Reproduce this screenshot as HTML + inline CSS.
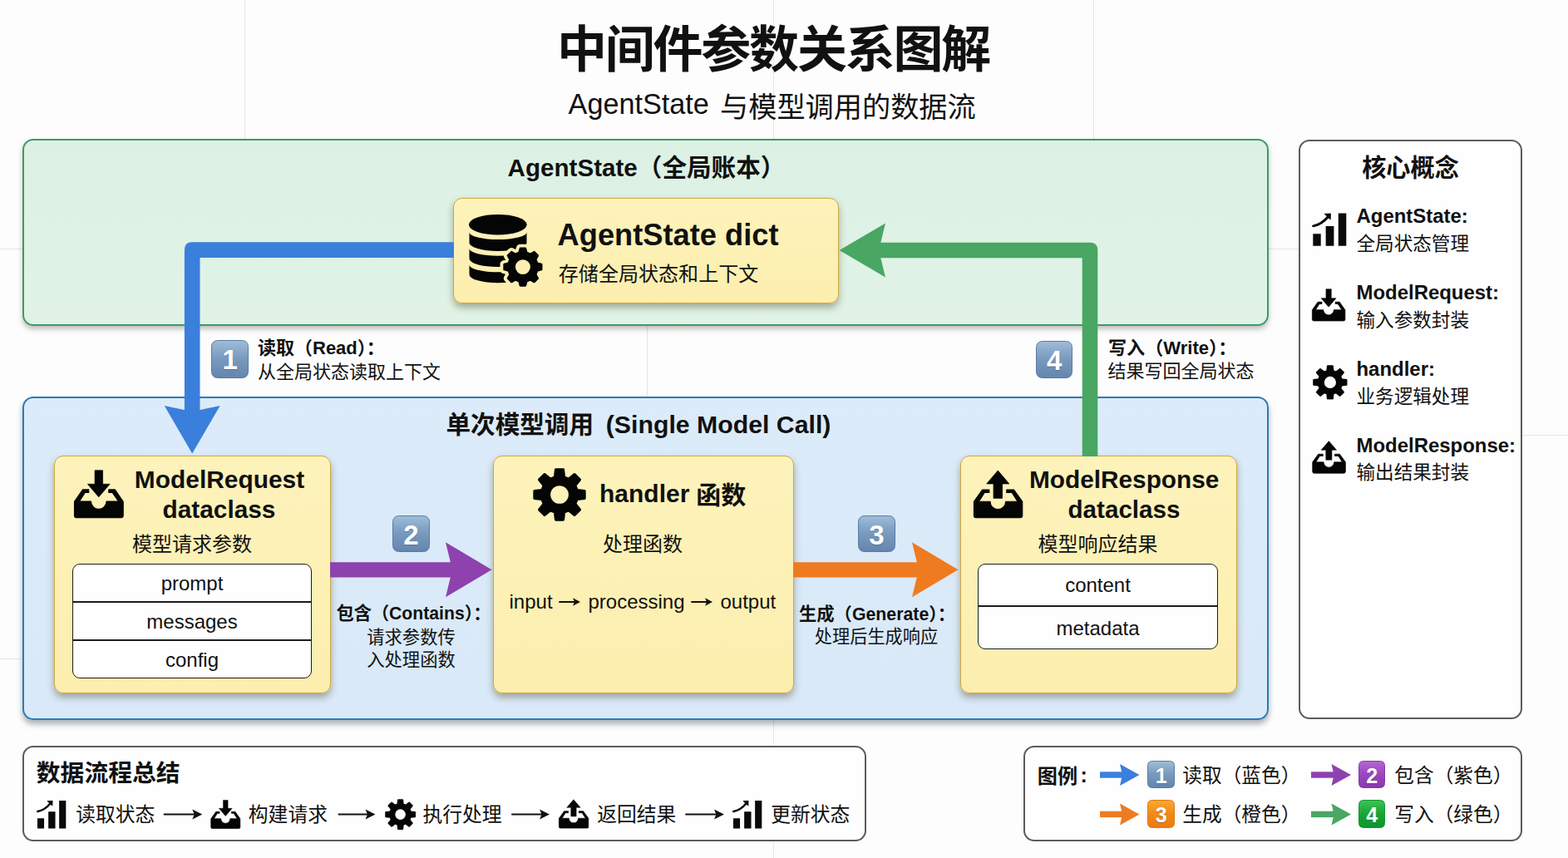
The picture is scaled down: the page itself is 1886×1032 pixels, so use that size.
<!DOCTYPE html>
<html lang="zh"><head><meta charset="utf-8"><title>中间件参数关系图解</title>
<style>
html,body{margin:0;padding:0;background:#fdfdfd}
#r{position:relative;width:1886px;height:1032px;overflow:hidden;background:#fdfdfd;font-family:"Liberation Sans","Noto Sans CJK SC",sans-serif;color:#111}
#r>*{position:absolute;box-sizing:border-box}
.gl{background:#e4e4f0}
.pg{border:2px solid #3d9a66;border-radius:13px;background:linear-gradient(#dcf1e4,#e0f3e6);box-shadow:0 4px 6px rgba(60,70,60,.32)}
.pb{border:2px solid #2a7db4;border-radius:13px;background:linear-gradient(#dcebf9,#d9e9f8);box-shadow:0 5px 7px rgba(40,50,70,.38)}
.pw{border:2px solid #5e5a5c;border-radius:13px;background:#fefefe}
.yb{border:1.8px solid #cda742;border-radius:11px;background:linear-gradient(#fdf3bb,#fceeae);box-shadow:0 5px 8px rgba(80,70,30,.42)}
.ft{border:1.8px solid #1c1c1c;border-radius:9px;background:#fefefe}
.fl{height:1.8px;background:#1c1c1c}
.ov{left:0;top:0;pointer-events:none}
.ic{overflow:visible}
.t{white-space:nowrap;line-height:1}
.z{font-size:0}
.bd{border-radius:7.5px;color:#fff;font-weight:bold;text-align:center;text-shadow:0 1px 1px rgba(40,60,90,.35)}
.bd.sm{border-radius:5.5px}
.b0{background:linear-gradient(#9fbcd8,#7b9cc0 45%,#6485ad);border:1.5px solid #597ba3}
.b2{background:linear-gradient(#b266d2,#9a46bd 50%,#8a38ae);border:1.5px solid #8a3aac}
.b3{background:linear-gradient(#f7a832,#f08a18 50%,#ec7a10);border:1.5px solid #e07a14}
.b4{background:linear-gradient(#3cc257,#17a535 50%,#0d962a);border:1.5px solid #14962e}
</style></head>
<body>
<svg width="0" height="0" style="position:absolute"><defs>
<symbol id="i-gear" viewBox="0 0 100 100"><path d="M41.43 17.09 L42.98 3.02 L57.02 3.02 L58.57 17.09 L67.21 20.67 L78.25 11.82 L88.18 21.75 L79.33 32.79 L82.91 41.43 L96.98 42.98 L96.98 57.02 L82.91 58.57 L79.33 67.21 L88.18 78.25 L78.25 88.18 L67.21 79.33 L58.57 82.91 L57.02 96.98 L42.98 96.98 L41.43 82.91 L32.79 79.33 L21.75 88.18 L11.82 78.25 L20.67 67.21 L17.09 58.57 L3.02 57.02 L3.02 42.98 L17.09 41.43 L20.67 32.79 L11.82 21.75 L21.75 11.82 L32.79 20.67ZM30.53 50.00a19.47 19.47 0 1 0 38.95 0a19.47 19.47 0 1 0 -38.95 0Z" fill="#050505" stroke="#050505" stroke-width="5" stroke-linejoin="round" fill-rule="evenodd"/></symbol>
<symbol id="i-in" viewBox="0 0 1032 1032"><path fill="#050505" stroke="#050505" stroke-width="14" stroke-linejoin="round" d="M122 840 V622 L252 437 H345 V483 H288 L200 620 H380 A120 120 0 0 0 620 620 H805 L712 483 H655 V437 H752 L880 622 V840 Q880 875 845 875 H157 Q122 875 122 840Z"/><path fill="#050505" stroke="#050505" stroke-width="10" stroke-linejoin="round" d="M440 140 H562 V352 H672 L500 552 L328 352 H440Z"/></symbol>
<symbol id="i-out" viewBox="0 0 1032 1032"><path fill="#050505" stroke="#050505" stroke-width="14" stroke-linejoin="round" d="M147 840 V622 L278 439 H385 V483 H313 L225 622 H400 A120 120 0 0 0 640 622 H825 L737 483 H655 V439 H768 L900 622 V840 Q900 875 865 875 H182 Q147 875 147 840Z"/><path fill="#050505" stroke="#050505" stroke-width="10" stroke-linejoin="round" d="M520 142 L695 347 H588 V572 H452 V347 H345Z"/></symbol>
<symbol id="i-bar" viewBox="0 0 1032 1032"><path fill="#0a0a0a" d="M160 624 H322 V872 H160Z M424 464 H592 V872 H424Z M684 198 H848 V872 H684Z"/><path d="M165 462 Q340 430 478 262" fill="none" stroke="#0a0a0a" stroke-width="50" stroke-linecap="round"/><path fill="#0a0a0a" stroke="#0a0a0a" stroke-width="14" stroke-linejoin="round" d="M398 210 L524 206 L520 326 Z"/></symbol>
</defs></svg>
<div id="r">
<div class="gl" style="left:293.5px;top:0px;width:1px;height:170px"></div>
<div class="gl" style="left:1314.5px;top:0px;width:1px;height:170px"></div>
<div class="gl" style="left:930px;top:0px;width:1px;height:170px"></div>
<div class="gl" style="left:930px;top:860px;width:1px;height:172px"></div>
<div class="gl" style="left:777.5px;top:390px;width:1px;height:90px"></div>
<div class="gl" style="left:0px;top:298.5px;width:1570px;height:1px"></div>
<div class="gl" style="left:1825px;top:522.5px;width:61px;height:1px"></div>
<div class="gl" style="left:0px;top:792px;width:30px;height:1px"></div>
<div class="pg" style="left:27px;top:167px;width:1499px;height:225px;"></div>
<div class="pb" style="left:27px;top:477px;width:1499px;height:389px;"></div>
<div class="pw" style="left:1562px;top:168px;width:269px;height:697px;"></div>
<div class="pw" style="left:27px;top:897px;width:1015px;height:115px;"></div>
<div class="pw" style="left:1231px;top:896.5px;width:600px;height:115.5px;"></div>
<div class="yb" style="left:545px;top:238px;width:463.5px;height:127px;"></div>
<div class="yb" style="left:64.5px;top:547.5px;width:333.0px;height:286.0px;"></div>
<div class="yb" style="left:593px;top:547.5px;width:361.5px;height:286.0px;"></div>
<div class="yb" style="left:1155px;top:547.5px;width:332.5px;height:286.0px;"></div>
<div class="ft" style="left:87px;top:677.5px;width:287.5px;height:138.5px"></div>
<div class="fl" style="left:87px;top:722.75px;width:287.5px"></div>
<div class="fl" style="left:87px;top:769px;width:287.5px"></div>
<div class="ft" style="left:1176px;top:678px;width:288.5px;height:102.5px"></div>
<div class="fl" style="left:1176px;top:727.75px;width:288.5px"></div>
<svg class="ov" width="1886" height="1032" viewBox="0 0 1886 1032"><path d="M546 291.3 H231 Q221.9 291.3 221.9 300.4 V504 H240.5 V309.9 H546Z" fill="#3b7fdc"/><path d="M231.2 545.5 L197.7 488.0 L231.2 495.0 L264.7 488.0Z" fill="#3b7fdc"/><path d="M1301.7 549 V310.3 H1052 V291.7 H1311.2 Q1320.3 291.7 1320.3 300.8 V549Z" fill="#49a663"/><path d="M1009.5 301.0 L1065.0 268.5 L1057.0 301.0 L1065.0 333.5Z" fill="#49a663"/><path d="M397 685.4 H551" fill="none" stroke="#8e42ae" stroke-width="18.4"/><path d="M591.5 685.2 L536.0 718.2 L544.0 685.2 L536.0 652.2Z" fill="#8e42ae"/><path d="M954 685.4 H1112" fill="none" stroke="#ef7b21" stroke-width="18.4"/><path d="M1152.5 685.2 L1097.0 718.2 L1105.0 685.2 L1097.0 652.2Z" fill="#ef7b21"/><path d="M1323 932 H1350.5" fill="none" stroke="#3b7fdc" stroke-width="7.4"/><path d="M1370.5 932.0 L1347.0 945.0 L1350.0 932.0 L1347.0 919.0Z" fill="#3b7fdc"/><path d="M1323 979.4 H1350.5" fill="none" stroke="#ef7b21" stroke-width="7.4"/><path d="M1370.5 979.4 L1347.0 992.4 L1350.0 979.4 L1347.0 966.4Z" fill="#ef7b21"/><path d="M1577 932 H1605" fill="none" stroke="#8e42ae" stroke-width="7.4"/><path d="M1625.0 932.0 L1601.5 945.0 L1604.5 932.0 L1601.5 919.0Z" fill="#8e42ae"/><path d="M1577 979.4 H1605" fill="none" stroke="#49a663" stroke-width="7.4"/><path d="M1625.0 979.4 L1601.5 992.4 L1604.5 979.4 L1601.5 966.4Z" fill="#49a663"/><path d="M197.5 979.6 H234.8" fill="none" stroke="#111" stroke-width="2.0" stroke-linecap="round"/><path d="M243.3 979.6 L231.3 985.6 L233.8 979.6 L231.3 973.6Z" fill="#111"/><path d="M407.5 979.6 H443.0" fill="none" stroke="#111" stroke-width="2.0" stroke-linecap="round"/><path d="M451.5 979.6 L439.5 985.6 L442.0 979.6 L439.5 973.6Z" fill="#111"/><path d="M616 979.6 H652.5" fill="none" stroke="#111" stroke-width="2.0" stroke-linecap="round"/><path d="M661.0 979.6 L649.0 985.6 L651.5 979.6 L649.0 973.6Z" fill="#111"/><path d="M825 979.6 H862.5" fill="none" stroke="#111" stroke-width="2.0" stroke-linecap="round"/><path d="M871.0 979.6 L859.0 985.6 L861.5 979.6 L859.0 973.6Z" fill="#111"/><path d="M673 724 H692" fill="none" stroke="#111" stroke-width="1.9" stroke-linecap="round"/><path d="M698.0 724.0 L689.0 728.8 L691.0 724.0 L689.0 719.2Z" fill="#111"/><path d="M832 724 H851" fill="none" stroke="#111" stroke-width="1.9" stroke-linecap="round"/><path d="M857.0 724.0 L848.0 728.8 L850.0 724.0 L848.0 719.2Z" fill="#111"/></svg>
<svg class="ov" width="1886" height="1032" viewBox="0 0 1886 1032"><ellipse cx="598.8" cy="270.2" rx="34.8" ry="12.3" fill="#050505"/><path fill="#050505" d="M564.5 279.4 A34.5 8.7 0 0 0 633.5 279.4 V292.0 A34.5 10 0 0 1 564.5 292.0Z"/><path fill="#050505" d="M564.5 299.0 A34.5 8.7 0 0 0 633.5 299.0 V311.1 A34.5 10 0 0 1 564.5 311.1Z"/><path fill="#050505" d="M564.5 318.6 A34.5 8.7 0 0 0 633.5 318.6 V330.3 A34.5 10 0 0 1 564.5 330.3Z"/><path d="M624.43 303.81 L625.83 298.71 L631.97 298.71 L633.37 303.81 L637.96 305.72 L642.56 303.10 L646.90 307.44 L644.28 312.04 L646.19 316.63 L651.29 318.03 L651.29 324.17 L646.19 325.57 L644.28 330.16 L646.90 334.76 L642.56 339.10 L637.96 336.48 L633.37 338.39 L631.97 343.49 L625.83 343.49 L624.43 338.39 L619.84 336.48 L615.24 339.10 L610.90 334.76 L613.52 330.16 L611.61 325.57 L606.51 324.17 L606.51 318.03 L611.61 316.63 L613.52 312.04 L610.90 307.44 L615.24 303.10 L619.84 305.72ZM628.90 321.10a0.00 0.00 0 1 0 0.00 0a0.00 0.00 0 1 0 -0.00 0Z" fill="#fcefb2" stroke="#fcefb2" stroke-width="10" stroke-linejoin="round"/><path d="M624.43 303.81 L625.83 298.71 L631.97 298.71 L633.37 303.81 L637.96 305.72 L642.56 303.10 L646.90 307.44 L644.28 312.04 L646.19 316.63 L651.29 318.03 L651.29 324.17 L646.19 325.57 L644.28 330.16 L646.90 334.76 L642.56 339.10 L637.96 336.48 L633.37 338.39 L631.97 343.49 L625.83 343.49 L624.43 338.39 L619.84 336.48 L615.24 339.10 L610.90 334.76 L613.52 330.16 L611.61 325.57 L606.51 324.17 L606.51 318.03 L611.61 316.63 L613.52 312.04 L610.90 307.44 L615.24 303.10 L619.84 305.72ZM618.73 321.10a10.17 10.17 0 1 0 20.34 0a10.17 10.17 0 1 0 -20.34 0Z" fill="#050505" stroke="#050505" stroke-width="2.4" stroke-linejoin="round" fill-rule="evenodd"/></svg>
<svg class="ic" style="left:80px;top:555px" width="80" height="80"><use href="#i-in"/></svg>
<svg class="ic" style="left:641.3px;top:563px" width="64" height="64"><use href="#i-gear"/></svg>
<svg class="ic" style="left:1160px;top:555px" width="80" height="80"><use href="#i-out"/></svg>
<svg class="ic" style="left:1570px;top:245px" width="60" height="60"><use href="#i-bar"/></svg>
<svg class="ic" style="left:1572.3px;top:339.6px" width="53.8" height="54.5"><use href="#i-in"/></svg>
<svg class="ic" style="left:1578.5px;top:438.8px" width="41.8" height="41.8"><use href="#i-gear"/></svg>
<svg class="ic" style="left:1570.8px;top:522.6px" width="54.3" height="54.5"><use href="#i-out"/></svg>
<svg class="ic" style="left:37.2px;top:953.2px" width="51.5" height="51.5"><use href="#i-bar"/></svg>
<svg class="ic" style="left:247.3px;top:955.8px" width="50" height="47.8"><use href="#i-in"/></svg>
<svg class="ic" style="left:462.6px;top:961px" width="37.2" height="37.2"><use href="#i-gear"/></svg>
<svg class="ic" style="left:664.6px;top:955.3px" width="49.5" height="48.5"><use href="#i-out"/></svg>
<svg class="ic" style="left:874px;top:953.2px" width="51.5" height="51.5"><use href="#i-bar"/></svg>
<div class="bd b0" style="left:254.4px;top:409.4px;width:44.6px;height:45.4px;font-size:33px;line-height:46.4px">1</div>
<div class="bd b0" style="left:472px;top:619.5px;width:45px;height:44.4px;font-size:33px;line-height:45.4px">2</div>
<div class="bd b0" style="left:1032px;top:619.5px;width:45px;height:44.4px;font-size:33px;line-height:45.4px">3</div>
<div class="bd b0" style="left:1246px;top:409.6px;width:44.4px;height:45px;font-size:33px;line-height:46px">4</div>
<div class="bd b0 sm" style="left:1380px;top:915px;width:33.4px;height:33px;font-size:25px;line-height:34px">1</div>
<div class="bd b3 sm" style="left:1380px;top:962.2px;width:33.4px;height:33.4px;font-size:25px;line-height:34.4px">3</div>
<div class="bd b2 sm" style="left:1634px;top:915px;width:32.4px;height:33px;font-size:25px;line-height:34px">2</div>
<div class="bd b4 sm" style="left:1634px;top:962.2px;width:32.4px;height:33.4px;font-size:25px;line-height:34.4px">4</div>
<div class="t" style="top:31.41px;font-size:60px;left:430px;width:1000px;text-align:center;font-weight:bold;letter-spacing:-2.2px;">中间件参数关系图解</div>
<div class="t" style="top:108.05px;font-size:34.2px;left:683.6px;">AgentState</div>
<div class="t" style="top:111.65px;font-size:34.2px;left:866.0px;">与模型调用的数据流</div>
<div class="t" style="top:186.64px;font-size:29.6px;left:610.6px;font-weight:bold;">AgentState（全局账本）</div>
<div class="t" style="top:264.51px;font-size:36.25px;left:670.6px;font-weight:bold;">AgentState dict</div>
<div class="t" style="top:317.84px;font-size:24.05px;left:671.8px;">存储全局状态和上下文</div>
<div class="t" style="top:187.78px;font-size:29.2px;left:1196.5px;width:1000px;text-align:center;font-weight:bold;">核心概念</div>
<div class="t" style="top:496.34px;font-size:29.6px;left:536.5px;font-weight:bold;">单次模型调用</div>
<div class="t" style="top:495.59px;font-size:30.25px;left:728.8px;font-weight:bold;">(Single Model Call)</div>
<div class="t" style="top:407.88px;font-size:22.0px;left:310px;font-weight:bold;">读取（Read）：</div>
<div class="t" style="top:436.78px;font-size:22px;left:310px;">从全局状态读取上下文</div>
<div class="t" style="top:407.79px;font-size:22.1px;left:1333px;font-weight:bold;">写入（Write）：</div>
<div class="t" style="top:436.28px;font-size:22px;left:1332.5px;">结果写回全局状态</div>
<div class="t" style="top:562.19px;font-size:29.9px;left:-236px;width:1000px;text-align:center;font-weight:bold;">ModelRequest</div>
<div class="t" style="top:597.77px;font-size:29.8px;left:-236.5px;width:1000px;text-align:center;font-weight:bold;">dataclass</div>
<div class="t" style="top:642.68px;font-size:24px;left:-269px;width:1000px;text-align:center;">模型请求参数</div>
<div class="t" style="top:689.68px;font-size:24px;left:-269px;width:1000px;text-align:center;">prompt</div>
<div class="t" style="top:736.08px;font-size:24px;left:-269px;width:1000px;text-align:center;">messages</div>
<div class="t" style="top:782.08px;font-size:24px;left:-269px;width:1000px;text-align:center;">config</div>
<div class="t" style="top:579.00px;font-size:30.0px;left:721px;font-weight:bold;">handler</div>
<div class="t" style="top:580.81px;font-size:30.0px;left:837.3px;font-weight:bold;">函数</div>
<div class="t" style="top:642.88px;font-size:24px;left:273px;width:1000px;text-align:center;">处理函数</div>
<div class="t" style="top:712.08px;font-size:24px;left:612.5px;">input<span class="z"> →</span></div>
<div class="t" style="top:712.08px;font-size:24px;left:707.5px;">processing<span class="z"> →</span></div>
<div class="t" style="top:712.08px;font-size:24px;left:866.5px;">output</div>
<div class="t" style="top:561.77px;font-size:29.8px;left:852.2px;width:1000px;text-align:center;font-weight:bold;">ModelResponse</div>
<div class="t" style="top:597.54px;font-size:29.6px;left:852px;width:1000px;text-align:center;font-weight:bold;">dataclass</div>
<div class="t" style="top:642.68px;font-size:24px;left:820.5px;width:1000px;text-align:center;">模型响应结果</div>
<div class="t" style="top:692.48px;font-size:24px;left:820.5px;width:1000px;text-align:center;">content</div>
<div class="t" style="top:743.68px;font-size:24px;left:820.5px;width:1000px;text-align:center;">metadata</div>
<div class="t" style="top:727.35px;font-size:21.2px;left:404.5px;font-weight:bold;">包含（Contains）：</div>
<div class="t" style="top:757.17px;font-size:21.3px;left:-5.5px;width:1000px;text-align:center;">请求参数传</div>
<div class="t" style="top:784.37px;font-size:21.3px;left:-5.5px;width:1000px;text-align:center;">入处理函数</div>
<div class="t" style="top:728.67px;font-size:21.3px;left:961px;font-weight:bold;">生成（Generate）：</div>
<div class="t" style="top:755.25px;font-size:21.2px;left:554px;width:1000px;text-align:center;">处理后生成响应</div>
<div class="t" style="top:248.13px;font-size:23.95px;left:1631.5px;font-weight:bold;">AgentState:</div>
<div class="t" style="top:282.97px;font-size:22.6px;left:1631.5px;">全局状态管理</div>
<div class="t" style="top:340.03px;font-size:23.95px;left:1631.5px;font-weight:bold;">ModelRequest:</div>
<div class="t" style="top:374.77px;font-size:22.6px;left:1631.5px;">输入参数封装</div>
<div class="t" style="top:431.73px;font-size:23.95px;left:1631.5px;font-weight:bold;">handler:</div>
<div class="t" style="top:466.77px;font-size:22.6px;left:1631.5px;">业务逻辑处理</div>
<div class="t" style="top:523.53px;font-size:23.95px;left:1631.5px;font-weight:bold;">ModelResponse:</div>
<div class="t" style="top:557.97px;font-size:22.6px;left:1631.5px;">输出结果封装</div>
<div class="t" style="top:916.42px;font-size:28.8px;left:43.8px;font-weight:bold;">数据流程总结</div>
<div class="t" style="top:967.85px;font-size:23.8px;left:91.2px;">读取状态<span class="z"> ⟶</span></div>
<div class="t" style="top:967.85px;font-size:23.8px;left:298.8px;">构建请求<span class="z"> ⟶</span></div>
<div class="t" style="top:967.85px;font-size:23.8px;left:508.4px;">执行处理<span class="z"> ⟶</span></div>
<div class="t" style="top:967.85px;font-size:23.8px;left:718.2px;">返回结果<span class="z"> ⟶</span></div>
<div class="t" style="top:967.85px;font-size:23.8px;left:927.2px;">更新状态</div>
<div class="t" style="top:921.91px;font-size:24.2px;left:1247.8px;font-weight:bold;">图例</div>
<div class="t" style="top:920.44px;font-size:25px;left:1299.5px;font-weight:bold;">:</div>
<div class="t" style="top:921.64px;font-size:23.7px;left:1422.3px;">读取（蓝色）</div>
<div class="t" style="top:968.64px;font-size:23.7px;left:1422.3px;">生成（橙色）</div>
<div class="t" style="top:921.64px;font-size:23.7px;left:1677.3px;">包含（紫色）</div>
<div class="t" style="top:968.64px;font-size:23.7px;left:1677.3px;">写入（绿色）</div>
</div>
</body></html>
